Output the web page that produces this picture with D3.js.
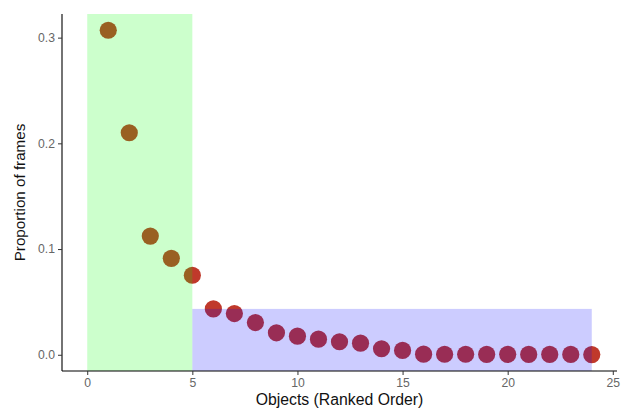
<!DOCTYPE html>
<html><head><meta charset="utf-8">
<script src="https://cdn.jsdelivr.net/npm/d3@7"></script>
<style>body{margin:0;background:#fff}text{font-family:"Liberation Sans",Arial,Helvetica,sans-serif}</style>
</head><body><svg id="c" width="625" height="409"></svg>
<script>
const ranks = d3.range(1, 25);
const proportions = [0.307, 0.210, 0.1123, 0.0912, 0.0752, 0.0434, 0.0390, 0.0305, 0.0208, 0.0176,
  0.0148, 0.0123, 0.0110, 0.0057, 0.0041, 0.0006, 0.0005, 0.0005, 0.0004, 0.0004,
  0.0003, 0.0003, 0.0003, 0.0002];
const xTicks = [0, 5, 10, 15, 20, 25];
const yTicks = [0.0, 0.1, 0.2, 0.3];
const regions = [
  {x0: 0, x1: 5, y0: null, y1: null, color: "#00ff00"},
  {x0: 5, x1: 24, y0: null, y1: 0.0434, color: "#0000ff"}
];

const svg = d3.select("#c");
const L = 62, R = 617, T = 14, B = 371;
const x = d3.scaleLinear().domain([-1.2, 25.2]).range([L, R]);
const yMax = 0.307;
const y = d3.scaleLinear().domain([-0.05 * yMax, yMax * 1.05]).range([B, T]);

const data = ranks.map((r, i) => ({r, v: proportions[i]}));

svg.append("g").selectAll("circle").data(data).join("circle")
  .attr("cx", d => x(d.r)).attr("cy", d => y(d.v)).attr("r", 8.6)
  .attr("fill", "#c0392b");

svg.append("g").selectAll("rect").data(regions).join("rect")
  .attr("x", d => x(d.x0)).attr("width", d => x(d.x1) - x(d.x0))
  .attr("y", d => d.y1 == null ? T : y(d.y1))
  .attr("height", d => B - (d.y1 == null ? T : y(d.y1)))
  .attr("fill", d => d.color).attr("fill-opacity", 0.2);

const xAxis = svg.append("g").attr("transform", `translate(0,${B})`)
  .call(d3.axisBottom(x).tickValues(xTicks).tickSize(4).tickPadding(3).tickFormat(d3.format("d")));
const yAxis = svg.append("g").attr("transform", `translate(${L},0)`)
  .call(d3.axisLeft(y).tickValues(yTicks).tickSize(4).tickPadding(3).tickFormat(d3.format(".1f")));
[xAxis, yAxis].forEach(a => {
  a.select(".domain").attr("stroke", "#000").attr("stroke-width", 1.1);
  a.selectAll(".tick line").attr("stroke", "#333");
  a.selectAll(".tick text").attr("fill", "#666").style("font-size", "12.2px")
    .style("font-family", '"Liberation Sans",Arial,sans-serif');
});
xAxis.select(".domain").attr("d", `M${L},0H${R}`);
yAxis.select(".domain").attr("d", `M0,${T}V${B}`);

svg.append("text").attr("x", (L + R) / 2).attr("y", 405).attr("text-anchor", "middle")
  .style("font-size", "15.8px").attr("fill", "#111").text("Objects (Ranked Order)");
svg.append("text").attr("transform", `translate(25,${(T + B) / 2}) rotate(-90)`)
  .attr("text-anchor", "middle").style("font-size", "15.2px").attr("fill", "#111")
  .text("Proportion of frames");
</script></body></html>
